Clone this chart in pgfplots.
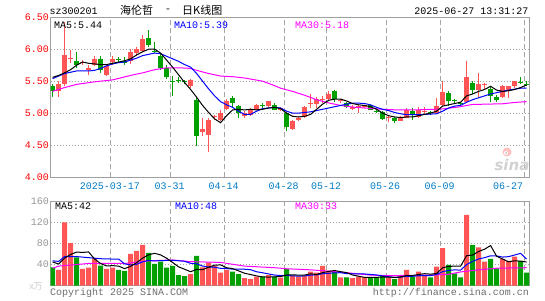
\documentclass[border=0pt]{standalone}
\usepackage{pgfplots}
\pgfplotsset{compat=1.18}
\usepackage{pgfplotstable}
\usepackage{fontspec}
\setmainfont{Liberation Mono}
\newfontfamily\mono{Liberation Mono}
\newfontfamily\cjk{Noto Sans CJK SC}
\newfontfamily\sinafont{DejaVu Sans}
\definecolor{kred}{RGB}{255,85,85}
\definecolor{kgreen}{RGB}{0,160,0}
\definecolor{mablue}{RGB}{0,0,255}
\definecolor{mamag}{RGB}{255,0,255}
\definecolor{datecol}{RGB}{0,125,200}
\definecolor{framecol}{RGB}{160,160,160}
\definecolor{gridcol}{RGB}{165,165,165}
\definecolor{volgray}{RGB}{150,150,150}
\definecolor{footgray}{RGB}{110,110,110}

% red (rising) candles: i lo hi L H
\pgfplotstableread{
i lo hi L H
1 5.34 5.46 5.26 5.50
2 5.45 5.91 5.42 6.43
3 5.85 5.87 5.78 5.99
5 5.78 5.80 5.75 5.83
6 5.68 5.71 5.60 5.75
7 5.76 5.85 5.73 5.89
9 5.60 5.73 5.58 5.77
10 5.80 5.85 5.76 5.89
13 5.81 5.95 5.77 6.00
14 5.94 6.00 5.89 6.04
15 5.98 6.16 5.95 6.23
23 5.43 5.52 5.39 5.53
25 4.698 4.75 4.635 4.922
26 4.661 4.885 4.385 4.922
27 4.94 4.96 4.90 4.97
28 4.896 5.0 4.87 5.052
29 5.063 5.193 5.042 5.219
32 4.948 5.0 4.93 5.026
33 4.974 5.052 4.948 5.078
34 5.052 5.13 5.042 5.146
36 5.115 5.182 5.088 5.193
38 5.052 5.078 5.03 5.09
40 4.755 4.87 4.74 4.896
41 4.885 4.92 4.87 4.948
42 4.938 5.094 4.922 5.115
43 5.15 5.165 5.078 5.30
44 5.146 5.224 5.078 5.25
45 5.205 5.22 5.16 5.27
46 5.224 5.302 5.198 5.354
48 5.185 5.20 5.156 5.224
50 5.063 5.094 5.042 5.13
51 5.078 5.115 5.0 5.13
52 5.094 5.12 5.08 5.13
56 4.925 4.94 4.86 4.974
58 4.87 4.93 4.87 4.948
59 4.922 5.042 4.92 5.078
61 4.938 5.052 4.922 5.094
62 5.02 5.035 4.984 5.094
64 5.0 5.104 4.99 5.234
65 5.13 5.323 5.115 5.505
69 5.167 5.573 5.156 5.823
71 5.365 5.458 5.26 5.635
72 5.435 5.45 5.365 5.479
75 5.26 5.432 5.234 5.443
76 5.339 5.417 5.234 5.427
77 5.417 5.495 5.39 5.505
}\redK
% green (falling) candles: i lo hi L H
\pgfplotstableread{
i lo hi L H
0 5.34 5.42 5.26 5.45
4 5.76 5.82 5.70 5.96
8 5.68 5.85 5.63 5.89
11 5.835 5.85 5.79 5.885
12 5.78 5.82 5.76 5.885
16 6.06 6.17 6.03 6.30
17 5.965 5.98 5.94 6.12
18 5.70 5.90 5.68 5.94
19 5.56 5.70 5.54 5.76
20 5.49 5.505 5.27 5.58
21 5.50 5.515 5.47 5.57
22 5.48 5.495 5.45 5.52
24 4.635 5.198 4.479 5.234
30 5.156 5.234 5.10 5.27
31 5.0 5.115 4.92 5.12
35 5.105 5.12 5.078 5.156
37 5.05 5.12 5.042 5.156
39 4.78 5.0 4.714 5.01
47 5.224 5.349 5.18 5.365
49 5.094 5.156 5.078 5.18
53 5.052 5.12 5.042 5.13
54 5.02 5.035 5.0 5.05
55 4.906 5.01 4.885 5.026
57 4.87 4.917 4.844 4.938
60 4.984 5.036 4.90 5.078
63 4.995 5.01 4.97 5.03
66 5.193 5.312 5.104 5.35
67 5.185 5.20 5.156 5.22
68 5.14 5.155 5.115 5.18
70 5.365 5.469 5.302 5.495
73 5.27 5.38 5.18 5.417
74 5.198 5.245 5.18 5.286
78 5.475 5.49 5.458 5.563
79 5.445 5.46 5.43 5.495
}\greenK
% volume (in 10k lots)
\pgfplotstableread{
i v
1 29.7
2 119.4
3 80.2
5 31.6
6 34.1
7 51.8
9 31.6
10 34.1
13 60
14 65.7
15 77
23 22.1
25 34.7
26 43.6
27 37.3
28 24.6
29 29.7
32 14.5
33 12.6
34 17
36 20.2
38 15.2
40 19
41 17
42 18.3
43 26.5
44 24.6
45 37.3
46 28.4
48 15.8
50 14.5
51 17
52 15.8
56 15.8
58 20.2
59 29.7
61 26.5
62 20.2
64 36
65 70.8
69 134
71 72.6
72 45.5
75 50.5
76 46.7
77 55
}\redV
\pgfplotstableread{
i v
0 34.7
4 53.7
8 37.9
11 29.7
12 27.8
16 61.9
17 41
18 45.5
19 34.1
20 37.3
21 20.2
22 18.3
24 56.2
30 26.5
31 22.1
35 17
37 17
39 31.6
47 26.5
49 15.8
53 15.8
54 15.8
55 18.3
57 12.6
60 17
63 15.8
66 39.2
67 23.4
68 15.8
70 77
73 50.5
74 32.8
78 46.7
79 24.6
}\greenV

\pgfplotsset{
  kbase/.style={
    scale only axis, width=478.5pt, xmin=-0.35, xmax=79.4,
    axis line style={draw=framecol, line width=1pt},
    major tick length=0pt,
    xtick={9.63,19.7,28.63,38.63,45.63,55.7,64.58,78.63}, xticklabels={},
    xmajorgrids, ymajorgrids,
    x grid style={draw=gridcol, line width=0.8pt, dash pattern=on 5pt off 3pt},
    y grid style={draw=gridcol, line width=0.8pt, dash pattern=on 1pt off 2pt},
    tick label style={font=\mono\fontsize{10}{10}\selectfont},
    yticklabel style={inner sep=1.5pt},
  },
  wick/.style={draw=none, mark=none, forget plot,
    error bars/.cd, y dir=plus, y explicit, error mark=none,
    error bar style={#1, line width=1pt}},
  body/.style={draw=none, mark=none, forget plot,
    error bars/.cd, y dir=plus, y explicit, error mark=none,
    error bar style={#1, line width=4.6pt}},
}

\begin{document}
\begin{tikzpicture}[x=1pt,y=1pt]
\useasboundingbox (0,0) rectangle (545,300);
\fill[white] (0,0) rectangle (545,300);

% ---------- price panel ----------
\begin{axis}[kbase, at={(50.5pt,123pt)}, anchor=south west, height=159.7pt,
  ymin=4, ymax=6.5, ytick={4,4.5,5,5.5,6,6.5},
  yticklabels={4.00,4.50,5.00,5.50,6.00,6.50},
  yticklabel style={text=red}]
\addplot[wick=kred] table[x=i, y=L, y error plus expr={\thisrow{H}-\thisrow{L}}] {\redK};
\addplot[wick=kgreen] table[x=i, y=L, y error plus expr={\thisrow{H}-\thisrow{L}}] {\greenK};
\addplot[body=kred] table[x=i, y=lo, y error plus expr={\thisrow{hi}-\thisrow{lo}}] {\redK};
\addplot[body=kgreen] table[x=i, y=lo, y error plus expr={\thisrow{hi}-\thisrow{lo}}] {\greenK};
% MA30
\addplot[mamag, line width=1pt, mark=none] coordinates {
(0,5.34) (2,5.40) (4,5.45) (7,5.49) (10,5.52) (13,5.59) (15,5.63) (17,5.68) (19,5.71) (21,5.71) (23,5.70) (24,5.67) (26,5.62) (28,5.58) (30,5.57) (32,5.55) (35,5.50) (37,5.43) (38,5.39) (40,5.34) (42,5.28) (44,5.21) (46,5.16) (48,5.12) (50,5.095) (52,5.08) (55,5.06) (57,5.052) (61,5.052) (65,5.065) (68,5.10) (69,5.12) (70,5.135) (72,5.14) (75,5.146) (77,5.167) (79,5.18)};
% MA10
\addplot[mablue, line width=1pt, mark=none] coordinates {
(0,5.54) (1,5.58) (2,5.62) (3,5.64) (4,5.66) (5,5.66) (6,5.66) (7,5.67) (8,5.70) (9,5.74) (10,5.77) (11,5.79) (12,5.80) (13,5.83) (14,5.86) (15,5.90) (16,5.92) (17,5.94) (18,5.93) (19,5.89) (20,5.85) (21,5.81) (22,5.76) (23,5.72) (24,5.62) (25,5.50) (26,5.38) (27,5.27) (28,5.18) (29,5.13) (30,5.09) (31,5.03) (32,4.98) (33,4.98) (34,5.03) (35,5.07) (36,5.08) (37,5.09) (38,5.08) (39,5.03) (40,5.00) (41,5.00) (42,5.01) (43,5.02) (44,5.04) (45,5.06) (46,5.08) (47,5.10) (48,5.12) (49,5.14) (50,5.155) (51,5.156) (52,5.15) (53,5.13) (54,5.09) (55,5.06) (56,5.04) (57,5.01) (58,4.99) (59,4.975) (60,4.975) (61,4.975) (62,4.98) (63,4.985) (64,4.99) (65,5.03) (66,5.08) (67,5.11) (68,5.12) (69,5.17) (70,5.21) (71,5.24) (72,5.27) (73,5.30) (74,5.32) (75,5.34) (76,5.36) (77,5.375) (78,5.39) (79,5.39)};
% MA5
\addplot[black, line width=1pt, mark=none] coordinates {
(0,5.56) (1,5.59) (2,5.63) (3,5.68) (4,5.75) (5,5.80) (6,5.78) (7,5.77) (8,5.76) (9,5.76) (10,5.78) (11,5.80) (12,5.82) (13,5.85) (14,5.91) (15,5.96) (16,6.00) (17,6.00) (18,5.94) (19,5.83) (20,5.72) (21,5.60) (22,5.48) (23,5.37) (24,5.25) (25,5.12) (26,5.01) (27,4.91) (28,4.85) (29,4.96) (30,5.05) (31,5.06) (32,5.05) (33,5.06) (34,5.05) (35,5.06) (36,5.08) (37,5.09) (38,5.07) (39,5.00) (40,4.95) (41,4.94) (42,4.95) (43,4.98) (44,5.06) (45,5.14) (46,5.20) (47,5.22) (48,5.22) (49,5.19) (50,5.15) (51,5.13) (52,5.12) (53,5.10) (54,5.06) (55,5.00) (56,4.96) (57,4.94) (58,4.93) (59,4.94) (60,4.94) (61,4.96) (62,4.98) (63,5.00) (64,5.03) (65,5.11) (66,5.13) (67,5.15) (68,5.17) (69,5.27) (70,5.30) (71,5.34) (72,5.37) (73,5.42) (74,5.36) (75,5.34) (76,5.35) (77,5.37) (78,5.40) (79,5.44)};
\end{axis}

% ---------- volume panel ----------
\begin{axis}[kbase, at={(50.5pt,14.3pt)}, anchor=south west, height=84.7pt,
  ymin=0, ymax=160, ytick={40,80,120,160},
  yticklabels={40,80,120,160},
  yticklabel style={text=volgray}]
\addplot[ybar, bar width=5pt, bar shift=0pt, fill=kred, draw=none, forget plot] table[x=i, y=v] {\redV};
\addplot[ybar, bar width=5pt, bar shift=0pt, fill=kgreen, draw=none, forget plot] table[x=i, y=v] {\greenV};
% vol MA30
\addplot[mamag, line width=1pt, mark=none] coordinates {
(0,33) (1,37) (3,39) (6,42) (12,42) (16,47) (20,48.6) (23,45.5) (28,44) (32,37) (37,34) (39,32) (43,30) (47,26.5) (49,24.6) (53,20) (56,19) (63,20) (66,21.5) (68,26) (71,30) (74,33) (79,34)};
% vol MA10
\addplot[mablue, line width=1pt, mark=none] coordinates {
(0,47) (1,46) (2,55) (3,55) (4,55) (5,54) (6,53) (7,52) (8,51) (9,50.5) (10,50.4) (11,50.4) (12,41.3) (13,39.2) (14,40.4) (15,45) (16,47.8) (17,46.7) (18,47.4) (19,47.7) (20,48) (21,47.1) (22,46.1) (23,42.3) (24,41.4) (25,37.1) (26,35.3) (27,34.9) (28,32.8) (29,32.4) (30,31.3) (31,31.5) (32,31.1) (33,30.2) (34,26.3) (35,24.5) (36,22.2) (37,20.1) (38,19.2) (39,19.4) (40,18.6) (41,18.1) (42,18.5) (43,19.9) (44,20.6) (45,22.7) (46,23.5) (47,24.4) (48,24.5) (49,22.9) (50,22.5) (51,22.5) (52,22.2) (53,21.2) (54,20.3) (55,18.4) (56,17.1) (57,15.7) (58,16.2) (59,17.6) (60,17.8) (61,18.8) (62,19.2) (63,19.2) (64,21.2) (65,26.5) (66,28.8) (67,29.9) (68,29.4) (69,39.9) (70,45.9) (71,50.5) (72,53) (73,56.5) (74,56.2) (75,54.1) (76,54.9) (77,58) (78,61.1) (79,50.2)};
% vol MA5
\addplot[black, line width=1pt, mark=none] coordinates {
(0,45) (1,41) (2,52) (3,59) (4,63.5) (5,62.9) (6,63.8) (7,50.3) (8,41.8) (9,37.4) (10,37.9) (11,37) (12,32.2) (13,36.6) (14,43.5) (15,52) (16,58.5) (17,61.1) (18,58.2) (19,51.9) (20,44) (21,35.6) (22,31.1) (23,26.4) (24,30.8) (25,30.3) (26,35) (27,38.8) (28,39.3) (29,34) (30,32.3) (31,28) (32,23.5) (33,21.1) (34,18.5) (35,16.6) (36,16.3) (37,16.8) (38,17.3) (39,20.2) (40,20.6) (41,20) (42,20.2) (43,22.5) (44,21.1) (45,24.7) (46,27) (47,28.7) (48,26.5) (49,24.8) (50,20.2) (51,17.9) (52,15.8) (53,15.8) (54,15.8) (55,16.5) (56,16.3) (57,15.7) (58,16.5) (59,19.3) (60,19.1) (61,21.2) (62,22.7) (63,21.8) (64,23.1) (65,33.9) (66,36.4) (67,37) (68,37) (69,56.6) (70,57.9) (71,64.6) (72,69) (73,75.9) (74,55.7) (75,50.4) (76,45.2) (77,47.1) (78,46.3) (79,44.7)};
\end{axis}

% ---------- texts ----------
\begin{scope}[every node/.style={font=\mono\fontsize{10}{10}\selectfont, inner sep=0pt}]
\node[anchor=west] at (49.5,288.5) {sz300201};
\node[anchor=west, font=\cjk\fontsize{11}{11}\selectfont] at (120,289.5) {海伦哲};
\node[anchor=west, font=\cjk\fontsize{11}{11}\selectfont] at (166,289.5) {-};
\node[anchor=west, font=\cjk\fontsize{11}{11}\selectfont] at (182,289.5) {日K线图};
\node[anchor=east] at (528.5,288.5) {2025-06-27 13:31:27};
\node[anchor=west] at (54,275) {MA5:5.44};
\node[anchor=west, text=mablue] at (174,275) {MA10:5.39};
\node[anchor=west, text=mamag] at (295,275) {MA30:5.18};
\node[anchor=west] at (55,94) {MA5:42};
\node[anchor=west, text=mablue] at (175,94) {MA10:48};
\node[anchor=west, text=mamag] at (295,94) {MA30:33};
\node[text=datecol] at (110,114) {2025-03-17};
\node[text=datecol] at (169.5,114) {03-31};
\node[text=datecol] at (223.5,114) {04-14};
\node[text=datecol] at (283.5,114) {04-28};
\node[text=datecol] at (326,114) {05-12};
\node[text=datecol] at (385,114) {05-26};
\node[text=datecol] at (439.5,114) {06-09};
\node[text=datecol] at (508,114) {06-27};
\node[anchor=west, text=footgray] at (50,7) {Copyright 2025 SINA.COM};
\node[anchor=east, text=footgray] at (529,7) {http://finance.sina.com.cn};
\node[text=gray!40, font=\cjk\fontsize{9}{9}\selectfont] at (36,13.5) {x万};
\fill[red!25] (507,148) circle (4.5);
\fill[white] (506,147) circle (2);
\fill[gray!50] (506,147) circle (1);
\node[text=gray!35, font=\sinafont\bfseries\itshape\fontsize{15}{15}\selectfont] at (512,135) {sina};
\end{scope}
\end{tikzpicture}
\end{document}
